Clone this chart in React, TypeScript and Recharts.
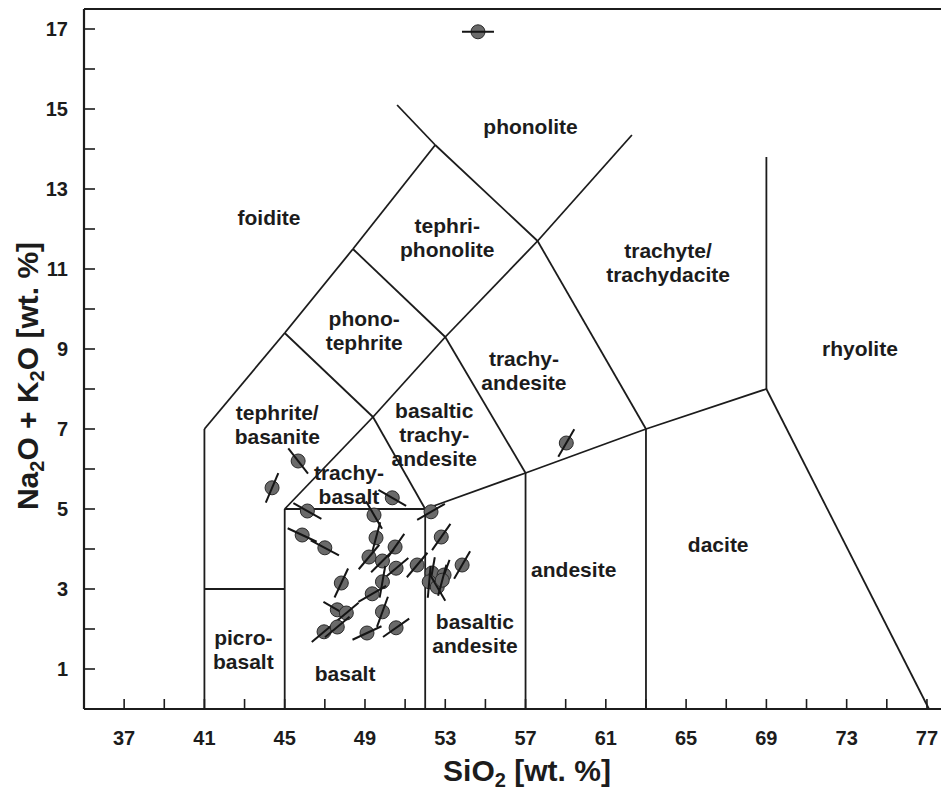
import React from 'react';
import { ScatterChart, Scatter, XAxis, YAxis, ReferenceLine } from 'recharts';

const xTicks = [37, 39, 41, 43, 45, 47, 49, 51, 53, 55, 57, 59, 61, 63, 65, 67, 69, 71, 73, 75, 77];
const yTicks = [1, 2, 3, 4, 5, 6, 7, 8, 9, 10, 11, 12, 13, 14, 15, 16, 17];

// TAS field boundaries: [x1, y1, x2, y2]
const boundaries = [
  [41, 0, 41, 7], [41, 3, 45, 3], [45, 0, 45, 5], [45, 5, 52, 5], [52, 0, 52, 5],
  [57, 0, 57, 5.9], [63, 0, 63, 7], [52, 5, 57, 5.9], [57, 5.9, 63, 7], [63, 7, 69, 8],
  [69, 8, 69, 13.8], [69, 8, 77.1, 0], [45, 5, 49.4, 7.3], [49.4, 7.3, 52, 5],
  [41, 7, 45, 9.4], [45, 9.4, 49.4, 7.3], [49.4, 7.3, 53, 9.3], [53, 9.3, 57, 5.9],
  [45, 9.4, 48.4, 11.5], [48.4, 11.5, 53, 9.3], [53, 9.3, 57.6, 11.7], [57.6, 11.7, 63, 7],
  [48.4, 11.5, 52.5, 14.1], [50.6, 15.1, 52.5, 14.1], [52.5, 14.1, 57.6, 11.7],
  [57.6, 11.7, 62.3, 14.35],
];

// samples: SiO2, total alkali, tilt of the tie line (degrees)
const samples = [
  { x: 54.63, y: 16.93, tilt: 0 },
  { x: 59.03, y: 6.65, tilt: 60 },
  { x: 45.67, y: 6.2, tilt: -52 },
  { x: 44.37, y: 5.53, tilt: 67 },
  { x: 46.13, y: 4.95, tilt: -29 },
  { x: 50.36, y: 5.28, tilt: -30 },
  { x: 52.29, y: 4.93, tilt: 30 },
  { x: 49.45, y: 4.85, tilt: -60 },
  { x: 45.87, y: 4.35, tilt: -25 },
  { x: 47.0, y: 4.03, tilt: -28 },
  { x: 49.55, y: 4.28, tilt: 75 },
  { x: 52.8, y: 4.3, tilt: 55 },
  { x: 53.84, y: 3.6, tilt: 60 },
  { x: 50.5, y: 4.05, tilt: 55 },
  { x: 49.2, y: 3.8, tilt: 50 },
  { x: 49.87, y: 3.7, tilt: 45 },
  { x: 50.55, y: 3.52, tilt: 40 },
  { x: 51.6, y: 3.6, tilt: 50 },
  { x: 49.87, y: 3.18, tilt: 80 },
  { x: 47.82, y: 3.15, tilt: 65 },
  { x: 49.36, y: 2.88, tilt: 30 },
  { x: 47.62, y: 2.48, tilt: -30 },
  { x: 48.07, y: 2.4, tilt: 40 },
  { x: 49.87, y: 2.43, tilt: 70 },
  { x: 46.96, y: 1.93, tilt: 40 },
  { x: 47.62, y: 2.05, tilt: 40 },
  { x: 49.1, y: 1.9, tilt: 25 },
  { x: 50.55, y: 2.03, tilt: 35 },
  { x: 52.34, y: 3.4, tilt: 80 },
  { x: 52.94, y: 3.35, tilt: 70 },
  { x: 52.2, y: 3.18, tilt: 85 },
  { x: 52.6, y: 3.05, tilt: -60 },
  { x: 52.85, y: 3.22, tilt: 75 },
];

const fieldLabels = [
  { x: 57.25, y: 14.55, lines: ['phonolite'] },
  { x: 44.22, y: 12.28, lines: ['foidite'] },
  { x: 53.1, y: 11.78, lines: ['tephri-', 'phonolite'] },
  { x: 64.1, y: 11.15, lines: ['trachyte/', 'trachydacite'] },
  { x: 48.96, y: 9.45, lines: ['phono-', 'tephrite'] },
  { x: 56.92, y: 8.45, lines: ['trachy-', 'andesite'] },
  { x: 73.66, y: 9.02, lines: ['rhyolite'] },
  { x: 44.63, y: 7.12, lines: ['tephrite/', 'basanite'] },
  { x: 52.45, y: 6.87, lines: ['basaltic', 'trachy-', 'andesite'] },
  { x: 48.2, y: 5.6, lines: ['trachy-', 'basalt'] },
  { x: 66.6, y: 4.1, lines: ['dacite'] },
  { x: 59.4, y: 3.48, lines: ['andesite'] },
  { x: 54.48, y: 1.88, lines: ['basaltic', 'andesite'] },
  { x: 42.94, y: 1.48, lines: ['picro-', 'basalt'] },
  { x: 48.01, y: 0.88, lines: ['basalt'] },
];

const INK = '#1c1c1c';
const SANS = '"Liberation Sans", Arial, Helvetica, sans-serif';

const XTick = (props: any) => {
  const { x, y, payload } = props;
  const showLabel = (payload.value - 37) % 4 === 0;
  return (
    <g>
      <line x1={x} x2={x} y1={y} y2={y - 10} stroke={INK} strokeWidth={1.6} />
      {showLabel && (
        <text x={x} y={y + 36} textAnchor="middle" fontFamily={SANS} fontWeight="bold" fontSize={20} fill={INK}>
          {payload.value}
        </text>
      )}
    </g>
  );
};

const YTick = (props: any) => {
  const { x, y, payload } = props;
  const showLabel = payload.value % 2 === 1;
  return (
    <g>
      <line x1={x} x2={x + 11} y1={y} y2={y} stroke={INK} strokeWidth={1.6} />
      {showLabel && (
        <text x={x - 16} y={y} dy="0.36em" textAnchor="end" fontFamily={SANS} fontWeight="bold" fontSize={20} fill={INK}>
          {payload.value}
        </text>
      )}
    </g>
  );
};

const SampleShape = (props: any) => {
  const { cx, cy, payload } = props;
  const a = (payload.tilt * Math.PI) / 180;
  const L = 16;
  const dx = L * Math.cos(a);
  const dy = L * Math.sin(a);
  return (
    <g>
      <circle cx={cx} cy={cy} r={7} fill="#6a6a6a" stroke="#2a2a2a" strokeWidth={1} />
      <line x1={cx - dx} y1={cy + dy} x2={cx + dx} y2={cy - dy} stroke="#151515" strokeWidth={2} />
    </g>
  );
};

const LabelShape = (props: any) => {
  const { cx, cy, payload } = props;
  const lh = 24;
  const n = payload.lines.length;
  return (
    <text textAnchor="middle" fontFamily={SANS} fontWeight="bold" fontSize={21} fill={INK}>
      {payload.lines.map((t: string, i: number) => (
        <tspan key={i} x={cx} y={cy - ((n - 1) * lh) / 2 + i * lh} dy="0.35em">
          {t}
        </tspan>
      ))}
    </text>
  );
};

const XTitle = () => (
  <text x={527} y={781} textAnchor="middle" fontFamily={SANS} fontWeight="bold" fontSize={30} fill={INK}>
    SiO<tspan fontSize={20} dy={6}>2</tspan>
    <tspan dy={-6}> [wt. %]</tspan>
  </text>
);

const YTitle = () => (
  <text
    x={27}
    y={376}
    transform="rotate(-90 27 376)"
    dy={11}
    textAnchor="middle"
    fontFamily={SANS}
    fontWeight="bold"
    fontSize={30}
    fill={INK}
  >
    Na<tspan fontSize={20} dy={6}>2</tspan>
    <tspan dy={-6}>O + K</tspan>
    <tspan fontSize={20} dy={6}>2</tspan>
    <tspan dy={-6}>O [wt. %]</tspan>
  </text>
);

export default function App() {
  return (
    <div style={{ width: 943, height: 794, background: '#fff' }}>
      <style>{'body{margin:0;}'}</style>
      <ScatterChart width={943} height={794} margin={{ top: 9, right: 2, bottom: 0, left: 0 }}>
        <XAxis
          type="number"
          dataKey="x"
          domain={[35, 77.7]}
          allowDataOverflow
          ticks={xTicks}
          interval={0}
          height={85}
          tickSize={0}
          tickMargin={0}
          tickLine={false}
          axisLine={{ stroke: INK, strokeWidth: 2.2 }}
          tick={<XTick />}
          label={<XTitle />}
        />
        <YAxis
          type="number"
          dataKey="y"
          domain={[0, 17.5]}
          allowDataOverflow
          ticks={yTicks}
          interval={0}
          width={84}
          tickSize={0}
          tickMargin={0}
          tickLine={false}
          axisLine={{ stroke: INK, strokeWidth: 2.2 }}
          tick={<YTick />}
          label={<YTitle />}
        />
        <ReferenceLine y={17.5} stroke={INK} strokeWidth={2.2} ifOverflow="visible" />
        {boundaries.map((b, i) => (
          <ReferenceLine
            key={i}
            segment={[{ x: b[0], y: b[1] }, { x: b[2], y: b[3] }]}
            stroke={INK}
            strokeWidth={1.8}
            ifOverflow="visible"
          />
        ))}
        <Scatter data={fieldLabels} dataKey="y" shape={<LabelShape />} isAnimationActive={false} />
        <Scatter data={samples} dataKey="y" shape={<SampleShape />} isAnimationActive={false} />
      </ScatterChart>
    </div>
  );
}
